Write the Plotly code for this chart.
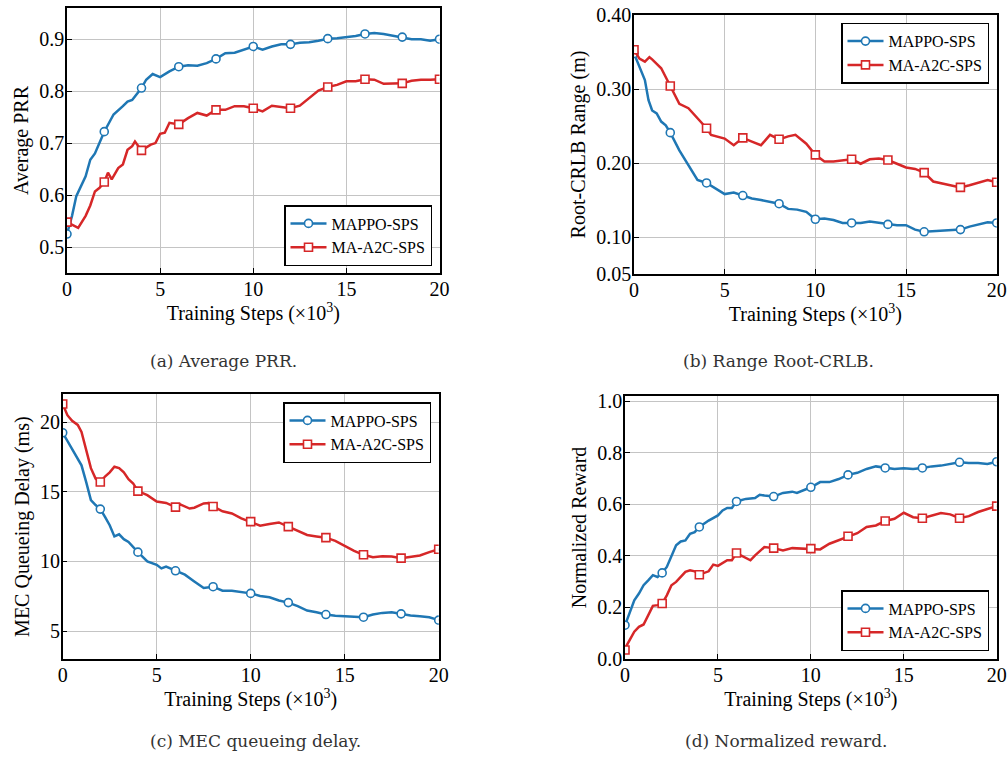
import plotly.graph_objects as go

# ---------------- data ----------------
# (a) Average PRR
a_mappo_x = [0, 0.27, 0.5, 1.0, 1.25, 1.5, 2, 2.5, 3, 3.25, 3.5, 4, 4.25, 4.6, 5, 5.5, 6, 6.5, 7, 7.5, 8,
             8.5, 9, 9.5, 10, 10.5, 11, 11.5, 12, 12.5, 13, 13.5, 14, 14.5, 15, 15.5, 16, 16.5, 17, 17.5,
             18, 18.5, 19, 19.5, 20]
a_mappo_y = [0.525, 0.56, 0.598, 0.636, 0.668, 0.68, 0.722, 0.755, 0.771, 0.78, 0.783, 0.806, 0.822, 0.833,
             0.827, 0.838, 0.847, 0.85, 0.849, 0.854, 0.862, 0.873, 0.874, 0.88, 0.886, 0.88, 0.886, 0.89,
             0.89, 0.893, 0.894, 0.897, 0.901, 0.902, 0.904, 0.906, 0.91, 0.912, 0.91, 0.907, 0.904, 0.9,
             0.9, 0.897, 0.9]
a_a2c_x = [0, 0.3, 0.6, 1.0, 1.25, 1.5, 1.75, 2, 2.2, 2.4, 2.75, 3, 3.25, 3.5, 3.65, 4, 4.5, 4.75, 5, 5.25,
           5.5, 6, 6.5, 7, 7.5, 8, 8.5, 9, 9.5, 10, 10.5, 11, 11.5, 12, 12.5, 13, 13.5, 14, 14.5, 15, 15.5,
           16, 16.5, 17, 17.5, 18, 18.5, 19, 19.5, 20]
a_a2c_y = [0.548, 0.543, 0.537, 0.56, 0.58, 0.607, 0.614, 0.625, 0.643, 0.63, 0.652, 0.659, 0.687, 0.694,
           0.703, 0.686, 0.697, 0.7, 0.718, 0.72, 0.739, 0.736, 0.748, 0.758, 0.753, 0.764, 0.764, 0.771,
           0.771, 0.767, 0.761, 0.772, 0.769, 0.767, 0.772, 0.787, 0.801, 0.808, 0.812, 0.819, 0.819,
           0.823, 0.822, 0.814, 0.815, 0.815, 0.82, 0.822, 0.822, 0.823]

# (b) Range Root-CRLB
b_mappo_x = [0, 0.4, 0.6, 0.8, 1.0, 1.25, 1.5, 1.75, 2, 2.5, 3, 3.5, 4, 4.5, 5, 5.5, 6, 6.5, 7, 7.5, 8,
             8.5, 9, 9.5, 10, 10.5, 11, 11.5, 12, 12.5, 13, 13.5, 14, 14.5, 15, 15.5, 16, 16.5, 17, 17.5,
             18, 18.5, 19, 19.5, 20]
b_mappo_y = [0.348, 0.323, 0.312, 0.285, 0.271, 0.267, 0.256, 0.251, 0.241, 0.217, 0.197, 0.177, 0.173,
             0.165, 0.158, 0.16, 0.156, 0.152, 0.15, 0.147, 0.145, 0.138, 0.137, 0.134, 0.124, 0.125,
             0.123, 0.119, 0.119, 0.119, 0.121, 0.119, 0.117, 0.116, 0.116, 0.11, 0.107, 0.108, 0.109,
             0.11, 0.11, 0.114, 0.117, 0.12, 0.119]
b_a2c_x = [0, 0.3, 0.6, 0.85, 1.0, 1.5, 2, 2.5, 3, 3.5, 4, 4.25, 4.5, 5, 5.5, 6, 6.5, 7, 7.25, 7.5, 8,
           8.5, 8.9, 9.5, 10, 10.5, 11, 11.5, 12, 12.5, 13, 13.5, 14, 14.5, 15, 15.5, 16, 16.5, 17, 17.5,
           18, 18.5, 19, 19.5, 20]
b_a2c_y = [0.353, 0.341, 0.337, 0.343, 0.34, 0.328, 0.304, 0.28, 0.274, 0.26, 0.247, 0.238, 0.236, 0.233,
           0.224, 0.234, 0.229, 0.224, 0.231, 0.238, 0.232, 0.236, 0.238, 0.226, 0.211, 0.202, 0.202,
           0.204, 0.205, 0.199, 0.205, 0.206, 0.204, 0.199, 0.194, 0.192, 0.187, 0.175, 0.172, 0.17,
           0.167, 0.17, 0.173, 0.177, 0.174]

# (c) MEC queueing delay
c_mappo_x = [0, 0.5, 1.0, 1.25, 1.5, 1.75, 2, 2.25, 2.5, 2.75, 3, 3.25, 3.5, 4, 4.5, 5, 5.25, 5.5, 6, 6.5,
             7, 7.5, 8, 8.5, 9, 9.5, 10, 10.5, 11, 11.5, 12, 12.5, 13, 13.5, 14, 14.5, 15, 15.5, 16, 16.5,
             17, 17.5, 18, 18.5, 19, 19.5, 20]
c_mappo_y = [19.24, 18.1, 16.9, 15.7, 14.4, 14.05, 13.76, 13.2, 12.6, 11.8, 11.95, 11.6, 11.4, 10.67, 10.0,
             9.76, 9.5, 9.64, 9.33, 9.05, 8.57, 8.1, 8.19, 7.9, 7.9, 7.8, 7.71, 7.52, 7.43, 7.2, 7.05, 6.79,
             6.48, 6.36, 6.19, 6.1, 6.07, 6.02, 6.0, 6.19, 6.31, 6.36, 6.24, 6.12, 6.07, 6.0, 5.79]
c_a2c_x = [0, 0.25, 0.5, 0.8, 1.0, 1.25, 1.5, 1.75, 2, 2.25, 2.5, 2.75, 3, 3.25, 3.5, 3.75, 4, 4.5, 5, 5.5,
           6, 6.25, 6.75, 7, 7.5, 7.75, 8, 8.5, 9, 9.5, 10, 10.5, 11, 11.5, 12, 12.5, 13, 13.5, 14, 14.5,
           15, 15.5, 16, 16.5, 17, 17.5, 18, 18.5, 19, 19.5, 20]
c_a2c_y = [21.3, 20.5, 20.1, 19.8, 19.3, 17.9, 16.7, 15.95, 15.7, 16.1, 16.4, 16.8, 16.7, 16.4, 15.9, 15.6,
           15.05, 14.76, 14.3, 14.2, 13.9, 14.1, 13.8, 13.86, 14.17, 14.2, 13.95, 13.6, 13.45, 13.1, 12.86,
           12.57, 12.69, 12.8, 12.5, 12.2, 11.9, 11.8, 11.71, 11.48, 11.14, 10.76, 10.48, 10.31, 10.38,
           10.36, 10.24, 10.31, 10.43, 10.67, 10.88]

# (d) Normalized reward
d_mappo_x = [0, 0.25, 0.5, 0.75, 1, 1.25, 1.5, 1.75, 2, 2.25, 2.5, 2.75, 3, 3.25, 3.5, 3.75, 4, 4.5, 5,
             5.25, 5.5, 5.75, 6, 6.5, 7, 7.25, 7.5, 8, 8.5, 9, 9.25, 9.5, 10, 10.5, 11, 11.5, 12, 12.5, 13,
             13.5, 14, 14.5, 15, 15.5, 16, 16.5, 17, 17.5, 18, 18.5, 19, 19.5, 20]
d_mappo_y = [0.131, 0.177, 0.228, 0.254, 0.286, 0.305, 0.325, 0.318, 0.334, 0.357, 0.402, 0.441, 0.456,
             0.46, 0.486, 0.492, 0.512, 0.537, 0.557, 0.576, 0.586, 0.586, 0.611, 0.621, 0.624, 0.637,
             0.634, 0.63, 0.644, 0.649, 0.644, 0.651, 0.666, 0.686, 0.686, 0.698, 0.714, 0.722, 0.737,
             0.747, 0.741, 0.737, 0.74, 0.737, 0.741, 0.747, 0.75, 0.756, 0.763, 0.76, 0.76, 0.756, 0.765]
d_a2c_x = [0, 0.1, 0.5, 0.75, 1.0, 1.25, 1.5, 1.75, 2, 2.25, 2.5, 2.75, 3, 3.25, 3.5, 3.75, 4, 4.5, 4.75, 5,
           5.5, 5.75, 6, 6.5, 6.75, 7, 7.5, 8, 8.5, 9, 9.5, 10, 10.5, 11, 11.5, 12, 12.5, 13, 13.5, 14,
           14.5, 15, 15.5, 16, 16.5, 17, 17.5, 18, 18.5, 19, 19.5, 20]
d_a2c_y = [0.035, 0.054, 0.106, 0.125, 0.134, 0.17, 0.206, 0.209, 0.215, 0.247, 0.286, 0.299, 0.318, 0.338,
           0.344, 0.34, 0.327, 0.34, 0.366, 0.361, 0.383, 0.383, 0.411, 0.392, 0.383, 0.402, 0.434, 0.43,
           0.421, 0.43, 0.428, 0.428, 0.425, 0.447, 0.46, 0.476, 0.488, 0.512, 0.518, 0.535, 0.544, 0.567,
           0.55, 0.546, 0.557, 0.566, 0.561, 0.546, 0.554, 0.57, 0.582, 0.593]

x_ticks = [0, 5, 10, 15, 20]
y_ticks_a = [0.5, 0.6, 0.7, 0.8, 0.9]
y_ticks_b = [0.05, 0.10, 0.20, 0.30, 0.40]
y_ticks_c = [5, 10, 15, 20]
y_ticks_d = [0.0, 0.2, 0.4, 0.6, 0.8, 1.0]

y_titles = ["Average PRR", "Root-CRLB Range (m)", "MEC Queueing Delay (ms)", "Normalized Reward"]
captions = ["(a) Average PRR.", "(b) Range Root-CRLB.", "(c) MEC queueing delay.", "(d) Normalized reward."]
series_names = ["MAPPO-SPS", "MA-A2C-SPS"]

# ---------------- style ----------------
W, H = 1008, 759
BLUE = "#1f77b4"
RED = "#d62728"
FONT = "Liberation Serif"
CAP_FONT = "DejaVu Serif"

panels = [
    dict(mx=a_mappo_x, my=a_mappo_y, rx=a_a2c_x, ry=a_a2c_y, px=(67, 439.5), py=(8, 273),
         yr=[0.45, 0.96], yt=y_ticks_a, yfmt=".1f", leg=dict(x=432, y=266, ya="bottom"),
         cap=(148, 361)),
    dict(mx=b_mappo_x, my=b_mappo_y, rx=b_a2c_x, ry=b_a2c_y, px=(634, 996.7), py=(15, 274),
         yr=[0.05, 0.40], yt=y_ticks_b, yfmt=".2f", leg=dict(x=989, y=22.7, ya="top"),
         cap=(681, 361)),
    dict(mx=c_mappo_x, my=c_mappo_y, rx=c_a2c_x, ry=c_a2c_y, px=(62.7, 438.7), py=(394.3, 659),
         yr=[3, 22], yt=y_ticks_c, yfmt="d", leg=dict(x=431, y=402, ya="top"),
         cap=(148, 741)),
    dict(mx=d_mappo_x, my=d_mappo_y, rx=d_a2c_x, ry=d_a2c_y, px=(625, 996.7), py=(396, 659),
         yr=[0, 1.02], yt=y_ticks_d, yfmt=".1f", leg=dict(x=989, y=651, ya="bottom"),
         cap=(683, 741)),
]

fig = go.Figure()
layout = dict(width=W, height=H, margin=dict(l=0, r=0, t=0, b=0, pad=0), autosize=False,
              paper_bgcolor="white", plot_bgcolor="white",
              font=dict(family=FONT, size=18, color="black"), annotations=[])

for i, p in enumerate(panels):
    n = "" if i == 0 else str(i + 1)
    xa, ya = "x" + n, "y" + n
    legname = "legend" + n
    for (xs, ys, col, sym, name) in [(p["mx"], p["my"], BLUE, "circle", series_names[0]),
                                      (p["rx"], p["ry"], RED, "square", series_names[1])]:
        fig.add_trace(go.Scatter(x=xs, y=ys, mode="lines", line=dict(color=col, width=2.5),
                                 xaxis=xa, yaxis=ya, showlegend=False, hoverinfo="skip"))
        mk_x = [xv for xv in xs if xv % 2 == 0]
        mk_y = [yv for xv, yv in zip(xs, ys) if xv % 2 == 0]
        fig.add_trace(go.Scatter(x=mk_x, y=mk_y, mode="markers",
                                 marker=dict(symbol=sym, size=8, color="white",
                                             line=dict(color=col, width=1.6)),
                                 xaxis=xa, yaxis=ya, showlegend=False))
        fig.add_trace(go.Scatter(x=[None], y=[None], mode="lines+markers", name=name,
                                 line=dict(color=col, width=2.5),
                                 marker=dict(symbol=sym, size=8, color="white",
                                             line=dict(color=col, width=1.6)),
                                 xaxis=xa, yaxis=ya, legend=legname))
    x0, x1 = p["px"]
    y0, y1 = p["py"]
    axis_common = dict(showline=True, linecolor="black", linewidth=1.5, mirror=True,
                       ticks="inside", ticklen=5, tickwidth=1.2, tickcolor="black",
                       showgrid=True, gridcolor="#c4c4c4", gridwidth=1, zeroline=False,
                       automargin=False, ticklabelstandoff=-3,
                       tickfont=dict(family=FONT, size=20, color="black"))
    layout["xaxis" + n] = dict(axis_common, domain=[x0 / W, x1 / W], range=[0, 20],
                               tickvals=x_ticks, anchor=ya,
                               title=dict(text="Training Steps (×10<sup>3</sup>)",
                                          font=dict(family=FONT, size=20), standoff=3))
    layout["yaxis" + n] = dict(axis_common, domain=[1 - y1 / H, 1 - y0 / H], range=p["yr"],
                               tickvals=p["yt"], tickformat=p["yfmt"], anchor=xa,
                               title=dict(text=y_titles[i], font=dict(family=FONT, size=20), standoff=5))
    lg = p["leg"]
    layout[legname] = dict(x=lg["x"] / W, y=1 - lg["y"] / H, xanchor="right", yanchor=lg["ya"],
                           xref="paper", yref="paper",
                           bgcolor="white", bordercolor="black", borderwidth=1.5,
                           font=dict(family=FONT, size=16), itemwidth=36, tracegroupgap=0)
    cx, cy = p["cap"]
    layout["annotations"].append(dict(text=captions[i], x=cx / W, y=1 - cy / H,
                                      xref="paper", yref="paper", showarrow=False,
                                      xanchor="left", yanchor="middle",
                                      font=dict(family=CAP_FONT, size=17, color="#333")))

fig.update_layout(**layout)
fig.write_html("out.html")
